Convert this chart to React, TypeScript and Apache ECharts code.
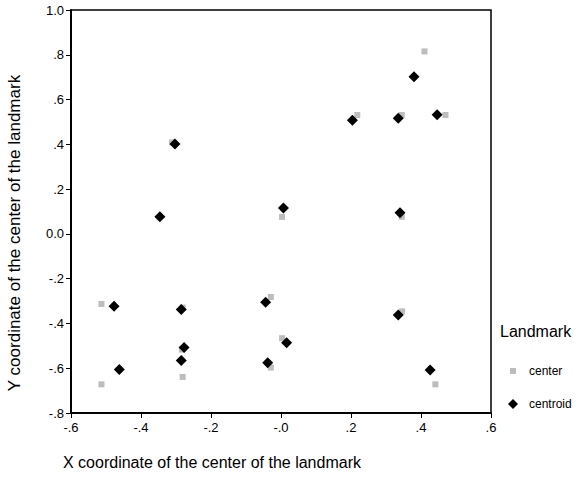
import React, { useEffect, useRef } from "react";
import * as echarts from "echarts";

const centerPoints: number[][] = [
  [-0.311, 0.409], [-0.346, 0.076], [0.003, 0.076], [0.41, 0.815], [0.218, 0.531],
  [0.345, 0.531], [0.47, 0.531], [0.345, 0.076], [-0.513, -0.313], [-0.281, -0.329],
  [-0.029, -0.282], [-0.283, -0.517], [-0.513, -0.672], [-0.281, -0.639], [0.003, -0.466],
  [-0.029, -0.597], [0.346, -0.346], [0.441, -0.672],
];

const centroidPoints: number[][] = [
  [-0.303, 0.401], [-0.346, 0.076], [0.007, 0.116], [0.38, 0.702], [0.204, 0.508],
  [0.335, 0.516], [0.446, 0.532], [0.34, 0.094], [-0.477, -0.323], [-0.285, -0.338],
  [-0.044, -0.305], [-0.277, -0.508], [-0.285, -0.565], [-0.462, -0.606], [0.016, -0.486],
  [-0.038, -0.575], [0.335, -0.362], [0.426, -0.608],
];

const xTickValues = [-0.6, -0.4, -0.2, 0, 0.2, 0.4, 0.6];
const xTickLabels = ["-.6", "-.4", "-.2", "-.0", ".2", ".4", ".6"];
const yTickValues = [-0.8, -0.6, -0.4, -0.2, 0, 0.2, 0.4, 0.6, 0.8, 1.0];
const yTickLabels = ["-.8", "-.6", "-.4", "-.2", "0.0", ".2", ".4", ".6", ".8", "1.0"];

const xTitle = "X coordinate of the center of the landmark";
const yTitle = "Y coordinate of the center of the landmark";
const legendTitle = "Landmark";

const FONT = "Arial, 'Liberation Sans', sans-serif";

function lookup(values: number[], labels: string[], v: number): string {
  for (let i = 0; i < values.length; i++) {
    if (Math.abs(values[i] - v) < 1e-6) return labels[i];
  }
  return "";
}

export default function App() {
  const ref = useRef<HTMLDivElement>(null);
  useEffect(() => {
    if (!ref.current) return;
    const chart = echarts.init(ref.current, undefined, { renderer: "svg" });
    chart.setOption({
      animation: false,
      backgroundColor: "#ffffff",
      grid: {
        left: 71,
        top: 10,
        right: 91,
        bottom: 75,
        show: true,
        borderColor: "#000",
        borderWidth: 1.5,
        backgroundColor: "transparent",
      },
      xAxis: {
        type: "value",
        min: -0.6,
        max: 0.6,
        interval: 0.2,
        splitLine: { show: false },
        axisLine: { show: true, onZero: false, lineStyle: { color: "#000", width: 2 } },
        axisTick: { show: true, inside: false, length: 5, lineStyle: { color: "#000", width: 1 } },
        axisLabel: {
          color: "#000",
          fontSize: 13,
          fontFamily: FONT,
          margin: 8,
          formatter: (v: number) => lookup(xTickValues, xTickLabels, v),
        },
      },
      yAxis: {
        type: "value",
        min: -0.8,
        max: 1.0,
        interval: 0.2,
        splitLine: { show: false },
        axisLine: { show: true, onZero: false, lineStyle: { color: "#000", width: 2 } },
        axisTick: { show: true, inside: false, length: 5, lineStyle: { color: "#000", width: 1 } },
        axisLabel: {
          color: "#000",
          fontSize: 13,
          fontFamily: FONT,
          margin: 7,
          formatter: (v: number) => lookup(yTickValues, yTickLabels, v),
        },
      },
      legend: [
        {
          data: [{ name: "center", icon: "rect" }],
          orient: "vertical",
          left: 510,
          top: 365,
          padding: 0,
          itemWidth: 6,
          itemHeight: 6,
          textStyle: { color: "#000", fontSize: 12, fontFamily: FONT, padding: [0, 0, 0, 8] },
          selectedMode: false,
        },
        {
          data: [{ name: "centroid", icon: "diamond" }],
          orient: "vertical",
          left: 508,
          top: 398,
          padding: 0,
          itemWidth: 10,
          itemHeight: 10,
          textStyle: { color: "#000", fontSize: 12, fontFamily: FONT, padding: [0, 0, 0, 6] },
          selectedMode: false,
        },
      ],
      graphic: [
        {
          type: "text",
          left: 63,
          top: 454,
          style: { text: xTitle, fill: "#000", fontSize: 16, fontFamily: FONT },
        },
        {
          type: "text",
          x: 14,
          y: 233,
          rotation: Math.PI / 2,
          style: {
            text: yTitle,
            fill: "#000",
            fontSize: 17,
            fontFamily: FONT,
            align: "center",
            verticalAlign: "middle",
          },
        },
        {
          type: "text",
          left: 500,
          top: 323,
          style: { text: legendTitle, fill: "#000", fontSize: 16, fontFamily: FONT },
        },
      ],
      series: [
        {
          name: "center",
          type: "scatter",
          data: centerPoints,
          symbol: "rect",
          symbolSize: 6,
          itemStyle: { color: "#bdbdbd", opacity: 1 },
          z: 2,
        },
        {
          name: "centroid",
          type: "scatter",
          data: centroidPoints,
          symbol: "diamond",
          symbolSize: 11,
          itemStyle: { color: "#000", opacity: 1 },
          z: 3,
        },
      ],
    });
    return () => chart.dispose();
  }, []);
  return (
    <div
      ref={ref}
      style={{ position: "absolute", left: 0, top: 0, width: 582, height: 488 }}
    />
  );
}
